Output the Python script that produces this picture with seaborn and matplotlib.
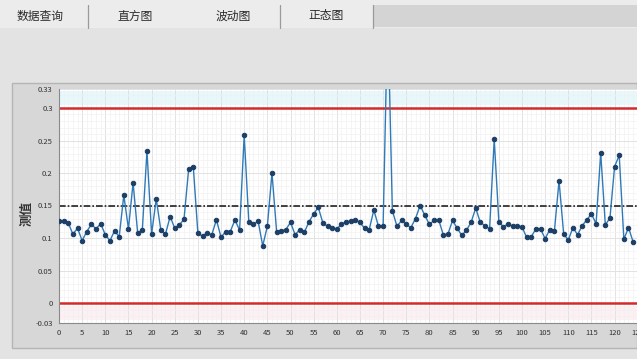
import numpy as np
import pandas as pd
import matplotlib
matplotlib.use("Agg")
import matplotlib.pyplot as plt
from matplotlib.patches import Rectangle
from matplotlib.lines import Line2D
from matplotlib.ticker import FixedLocator, MultipleLocator
import seaborn as sns

# ---------------- data ----------------
values = [
    0.126, 0.126, 0.123, 0.106, 0.115, 0.096, 0.110, 0.121, 0.114, 0.122,
    0.105, 0.096, 0.111, 0.102, 0.166, 0.114, 0.185, 0.107, 0.113, 0.234,
    0.106, 0.160, 0.112, 0.106, 0.133, 0.115, 0.120, 0.129, 0.206, 0.210,
    0.107, 0.103, 0.108, 0.105, 0.128, 0.101, 0.110, 0.110, 0.128, 0.112,
    0.258, 0.124, 0.121, 0.126, 0.088, 0.118, 0.200, 0.110, 0.111, 0.113,
    0.124, 0.105, 0.113, 0.109, 0.125, 0.137, 0.147, 0.123, 0.118, 0.115,
    0.114, 0.121, 0.125, 0.126, 0.128, 0.124, 0.115, 0.113, 0.143, 0.118,
    0.118, 0.450, 0.142, 0.118, 0.127, 0.121, 0.116, 0.130, 0.150, 0.135,
    0.121, 0.127, 0.128, 0.105, 0.106, 0.127, 0.115, 0.104, 0.112, 0.124,
    0.146, 0.124, 0.119, 0.114, 0.252, 0.125, 0.117, 0.122, 0.118, 0.119,
    0.117, 0.101, 0.102, 0.114, 0.114, 0.099, 0.113, 0.111, 0.188, 0.106,
    0.097, 0.116, 0.105, 0.119, 0.128, 0.137, 0.122, 0.231, 0.120, 0.131,
    0.210, 0.227, 0.098, 0.116, 0.094,
]
sample_no = list(range(len(values)))
ucl = 0.30
lcl = 0.0
center = 0.15
y_ticks = [-0.03, 0, 0.05, 0.1, 0.15, 0.2, 0.25, 0.3, 0.33]
y_tick_labels = ["-0.03", "0", "0.05", "0.1", "0.15", "0.2", "0.25", "0.3", "0.33"]
x_ticks = list(range(0, 126, 5))
tabs = ["数据查询", "直方图", "波动图", "正态图"]
y_label = "测值"

df = pd.DataFrame({"sample": sample_no, "value": values})

# ---------------- style ----------------
sns.set_style("white")
plt.rcParams["font.family"] = ["Noto Sans CJK SC", "DejaVu Sans"]

W, H = 637, 359
fig = plt.figure(figsize=(W / 100, H / 100), dpi=100)
fig.patch.set_facecolor("#e3e3e3")

def px(x, y, w, h):
    return (x / W, 1 - (y + h) / H, w / W, h / H)

# tab bar
tab_bg = Rectangle((0, 1 - 28 / H), 1, 28 / H, transform=fig.transFigure,
                   facecolor="#ececec", edgecolor="none", zorder=-3)
fig.patches.append(tab_bg)
grey_bar = Rectangle((373 / W, 1 - 27 / H), (W - 373) / W, 22 / H,
                     transform=fig.transFigure, facecolor="#d4d4d4",
                     edgecolor="none", zorder=-2)
fig.patches.append(grey_bar)
for sx in [88, 280, 373]:
    fig.add_artist(Line2D([sx / W, sx / W], [1 - 28 / H, 1 - 5 / H],
                          transform=fig.transFigure, color="#9a9a9a", lw=0.9))
tab_x = [40, 135, 233, 326]
for t, tx in zip(tabs, tab_x):
    fig.text(tx / W, 1 - 16 / H, t, ha="center", va="center",
             fontsize=8.5, color="#2a2a2a")

# chart panel
panel = Rectangle((12 / W, 1 - 348 / H), (W - 12) / W, (348 - 83) / H,
                  transform=fig.transFigure, facecolor="#d7d7d7",
                  edgecolor="#b5b5b5", lw=1.0, zorder=-2)
fig.patches.append(panel)

# axes
x0, x1 = 59, 59 + 4.63 * 130
y_top, y_bot = 88.5, 322.5
ax = fig.add_axes(px(x0, y_top, x1 - x0, y_bot - y_top))
ax.set_zorder(5)
ax.set_facecolor("white")

ax.axhspan(0.305, 0.326, color="#e6f8fb", zorder=0, lw=0)
ax.axhspan(-0.026, -0.004, color="#fdf0f2", zorder=0, lw=0)

ax.xaxis.set_minor_locator(MultipleLocator(1))
ax.yaxis.set_minor_locator(MultipleLocator(0.01))
ax.grid(which="major", color="#e2e2e2", lw=0.7, zorder=0)
ax.grid(which="minor", color="#f1f1f1", lw=0.5, zorder=0)
ax.set_axisbelow(True)

ax.axhline(ucl, color="#d42a2a", lw=1.8, zorder=2)
ax.axhline(lcl, color="#d42a2a", lw=1.8, zorder=2)
ax.axhline(center, color="#222222", lw=1.2, ls=(0, (4, 1.2, 1, 1.2)), zorder=2)

sns.lineplot(data=df, x="sample", y="value", ax=ax, color="#2f79b8",
             lw=1.0, marker="o", markersize=3.2, markerfacecolor="#1d3f66",
             markeredgecolor="#1d3f66", zorder=3)

ax.set_xlim(0, 130)
ax.set_ylim(-0.03, 0.33)
ax.yaxis.set_major_locator(FixedLocator(y_ticks))
ax.set_yticklabels(y_tick_labels)
ax.xaxis.set_major_locator(FixedLocator(x_ticks))
ax.set_xticklabels([str(v) for v in x_ticks])
ax.tick_params(axis="both", which="major", labelsize=5.5, colors="#333333",
               length=2.5, width=0.6, pad=2)
ax.tick_params(axis="both", which="minor", length=0)
ax.set_xlabel("")
ax.set_ylabel("")
for s in ["top", "right"]:
    ax.spines[s].set_visible(False)
for s in ["left", "bottom"]:
    ax.spines[s].set_color("#8a8a8a")
    ax.spines[s].set_linewidth(0.8)

fig.text(27 / W, 1 - 213 / H, y_label, rotation=90, ha="center", va="center",
         fontsize=9, fontweight="bold", color="#333333")

fig.savefig("out.png", dpi=100, facecolor=fig.get_facecolor())
